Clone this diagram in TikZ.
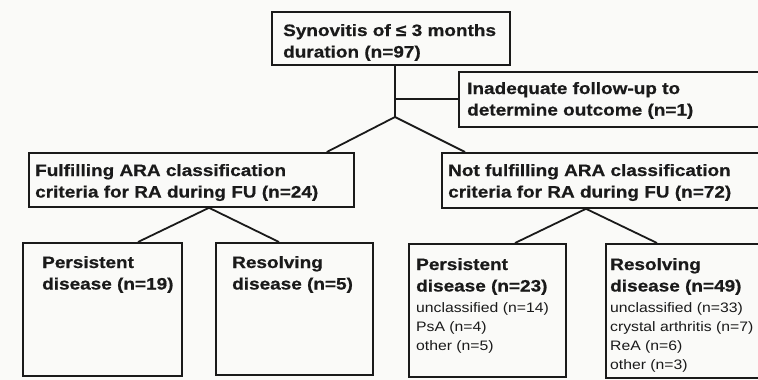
\documentclass[tikz,border=0pt]{standalone}
\usepackage{fontspec}
\setmainfont{Liberation Sans}[FakeStretch=1.15, BoldFeatures={FakeBold=0.6}]
\usetikzlibrary{calc}
\definecolor{ink}{RGB}{26,26,26}
\definecolor{paper}{RGB}{250,250,248}
\newcommand{\hd}{\fontsize{16.5}{21.5}\selectfont\bfseries}
\newcommand{\sm}{\fontsize{13.7}{19}\selectfont}
\tikzset{
  box/.style={draw=ink, line width=1.8pt, inner sep=0pt, anchor=north west},
  txt/.style={anchor=base west, inner sep=0pt, text=ink},
  link/.style={draw=ink, line width=1.8pt}
}
\begin{document}
\begin{tikzpicture}[x=1pt,y=-1pt]
\fill[paper] (0,0) rectangle (758,380);
\useasboundingbox (0,0) rectangle (758,380);
\clip (0,0) rectangle (758,380);
% boxes
\node[box, minimum width=238pt, minimum height=53pt] (top) at (271,11) {};
\node[box, minimum width=330pt, minimum height=55pt] (inad) at (458,71) {};
\node[box, minimum width=325pt, minimum height=54pt] (fulf) at (28,152) {};
\node[box, minimum width=340pt, minimum height=55pt] (notf) at (441,152) {};
\node[box, minimum width=159pt, minimum height=133pt] (p19) at (22,242) {};
\node[box, minimum width=157pt, minimum height=132pt] (r5) at (215,242) {};
\node[box, minimum width=157pt, minimum height=133pt] (p23) at (408,243) {};
\node[box, minimum width=180pt, minimum height=134pt] (r49) at (605,243) {};
% texts
\node[txt] (ttop) at (283,36) {\hd\begin{tabular}[t]{@{}l@{}}Synovitis of ≤ 3 months\\duration (n=97)\end{tabular}};
\node[txt] (tinad) at (467,94) {\hd\begin{tabular}[t]{@{}l@{}}Inadequate follow-up to\\determine outcome (n=1)\end{tabular}};
\node[txt] (tfulf) at (35,176) {\hd\begin{tabular}[t]{@{}l@{}}Fulfilling ARA classification\\criteria for RA during FU (n=24)\end{tabular}};
\node[txt] (tnotf) at (448,176) {\hd\begin{tabular}[t]{@{}l@{}}Not fulfilling ARA classification\\criteria for RA during FU (n=72)\end{tabular}};
\node[txt] (tp19) at (42,268) {\hd\begin{tabular}[t]{@{}l@{}}Persistent\\disease (n=19)\end{tabular}};
\node[txt] (tr5) at (232,268) {\hd\begin{tabular}[t]{@{}l@{}}Resolving\\disease (n=5)\end{tabular}};
\node[txt] (tp23) at (416,270) {\hd\begin{tabular}[t]{@{}l@{}}Persistent\\disease (n=23)\end{tabular}};
\node[txt] (lp23) at (416,312) {\sm\begin{tabular}[t]{@{}l@{}}unclassified (n=14)\\PsA (n=4)\\other (n=5)\end{tabular}};
\node[txt] (tr49) at (610,270) {\hd\begin{tabular}[t]{@{}l@{}}Resolving\\disease (n=49)\end{tabular}};
\node[txt] (lr49) at (610,312) {\sm\begin{tabular}[t]{@{}l@{}}unclassified (n=33)\\crystal arthritis (n=7)\\ReA (n=6)\\other (n=3)\end{tabular}};
% connectors
\coordinate (j1) at (395,117);
\coordinate (j1m) at (395,99);
\draw[link] (top.south -| j1) -- (j1);
\draw[link] (j1m) -- (j1m -| inad.west);
\draw[link] (j1) -- ($(fulf.north east)+(-28,0)$);
\draw[link] (j1) -- ($(notf.north west)+(24,0)$);
\draw[link] ($(fulf.south west)+(181,0)$) -- ($(p19.north west)+(116,0)$);
\draw[link] ($(fulf.south west)+(181,0)$) -- ($(r5.north west)+(64,0)$);
\draw[link] ($(notf.south west)+(145,0)$) -- ($(p23.north west)+(107,0)$);
\draw[link] ($(notf.south west)+(145,0)$) -- ($(r49.north west)+(52,0)$);
\end{tikzpicture}
\end{document}
